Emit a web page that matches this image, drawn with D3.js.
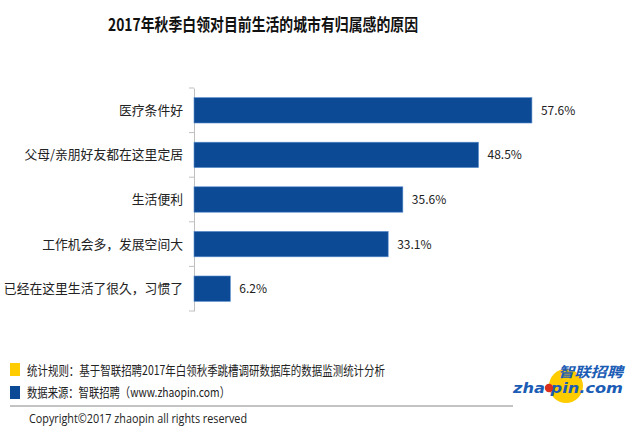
<!DOCTYPE html>
<html><head><meta charset="utf-8">
<script src="https://cdn.jsdelivr.net/npm/d3@7"></script>
<style>body{margin:0;background:#fff}svg{display:block}</style>
</head><body>
<svg id="c" width="640" height="437"></svg>
<script>
const categories = ["医疗条件好","父母/亲朋好友都在这里定居","生活便利","工作机会多，发展空间大","已经在这里生活了很久，习惯了"];
const values = [57.6, 48.5, 35.6, 33.1, 6.2];
const valueLabels = ["57.6%","48.5%","35.6%","33.1%","6.2%"];
const title = "2017年秋季白领对目前生活的城市有归属感的原因";
const notes = ["统计规则：基于智联招聘2017年白领秋季跳槽调研数据库的数据监测统计分析","数据来源：智联招聘（www.zhaopin.com）"];
const copyright = "Copyright©2017 zhaopin all rights reserved";

const font = "'Noto Sans CJK SC','Microsoft YaHei',sans-serif";
const svg = d3.select("#c");
const barColor = "#0d4a95";

svg.append("text").attr("x",108).attr("y",31)
  .attr("textLength",310).attr("lengthAdjust","spacingAndGlyphs")
  .attr("font-family",font).attr("font-weight","bold").attr("font-size",17).attr("fill","#111").text(title);

const x = d3.scaleLinear().domain([0,60]).range([194,194+352]);
const y = d3.scaleBand().domain(categories).range([88,311]).paddingInner(0.43).paddingOuter(0.215);

const yAxis = d3.axisLeft(y).tickSize(0).tickFormat("");
const ag = svg.append("g").attr("transform","translate(194,0)").call(yAxis);
ag.select(".domain").attr("stroke","#bfbfbf");
const bounds = d3.range(categories.length+1).map(i => 88 + i*(311-88)/categories.length);
svg.append("g").selectAll("line").data(bounds).join("line")
  .attr("x1",189).attr("x2",194).attr("y1",d=>d).attr("y2",d=>d).attr("stroke","#bfbfbf");

svg.append("g").selectAll("rect").data(values).join("rect")
  .attr("x",x(0)).attr("y",(d,i)=>y(categories[i]))
  .attr("width",d=>x(d)-x(0)).attr("height",y.bandwidth())
  .attr("fill",barColor).attr("stroke","#5b8fd0").attr("stroke-width",0.6);

svg.append("g").selectAll("text").data(values).join("text")
  .attr("x",d=>x(d)+9).attr("y",(d,i)=>y(categories[i])+y.bandwidth()/2+4.5)
  .attr("font-family",font).attr("font-size",12).attr("fill","#222").text((d,i)=>valueLabels[i]);

svg.append("g").selectAll("text").data(categories).join("text")
  .attr("x",183).attr("y",d=>y(d)+y.bandwidth()/2+4.5).attr("text-anchor","end")
  .attr("font-family",font).attr("font-size",12.8).attr("fill","#222").text(d=>d);

// footer
const sq = [["#ffcc00",363],["#0d4a95",386]];
sq.forEach(([c,yy])=>svg.append("rect").attr("x",10).attr("y",yy).attr("width",10).attr("height",13).attr("fill",c));
const noteLens = [358, 203];
notes.forEach((t,i)=>svg.append("text").attr("x",27).attr("y",375+i*22).attr("font-family",font)
  .attr("textLength",noteLens[i]).attr("lengthAdjust","spacingAndGlyphs")
  .attr("font-size",13).attr("fill","#222").text(t));
svg.append("line").attr("x1",10).attr("x2",513).attr("y1",406).attr("y2",406).attr("stroke","#888").attr("stroke-width",1);
svg.append("text").attr("x",29).attr("y",423).attr("font-family","'Open Sans',sans-serif").attr("font-size",13)
  .attr("textLength",218).attr("lengthAdjust","spacingAndGlyphs")
  .attr("fill","#222").text(copyright);

// logo
svg.append("circle").attr("cx",566).attr("cy",386).attr("r",17).attr("fill","#ffcc00");
svg.append("text").attr("x",558).attr("y",377)
  .attr("textLength",65).attr("lengthAdjust","spacingAndGlyphs").attr("font-family",font)
  .attr("font-weight","bold").attr("font-style","italic").attr("font-size",14).attr("fill","#1b5cb5").text("智联招聘");
svg.append("text").attr("x",513).attr("y",393)
  .attr("textLength",110).attr("lengthAdjust","spacingAndGlyphs").attr("font-family","'DejaVu Sans',sans-serif")
  .attr("font-weight","bold").attr("font-style","italic").attr("font-size",14).attr("fill","#1b5cb5").text("zha pin.com");
svg.append("circle").attr("cx",549).attr("cy",388).attr("r",4.2).attr("fill","#d8301e");
</script>
</body></html>
